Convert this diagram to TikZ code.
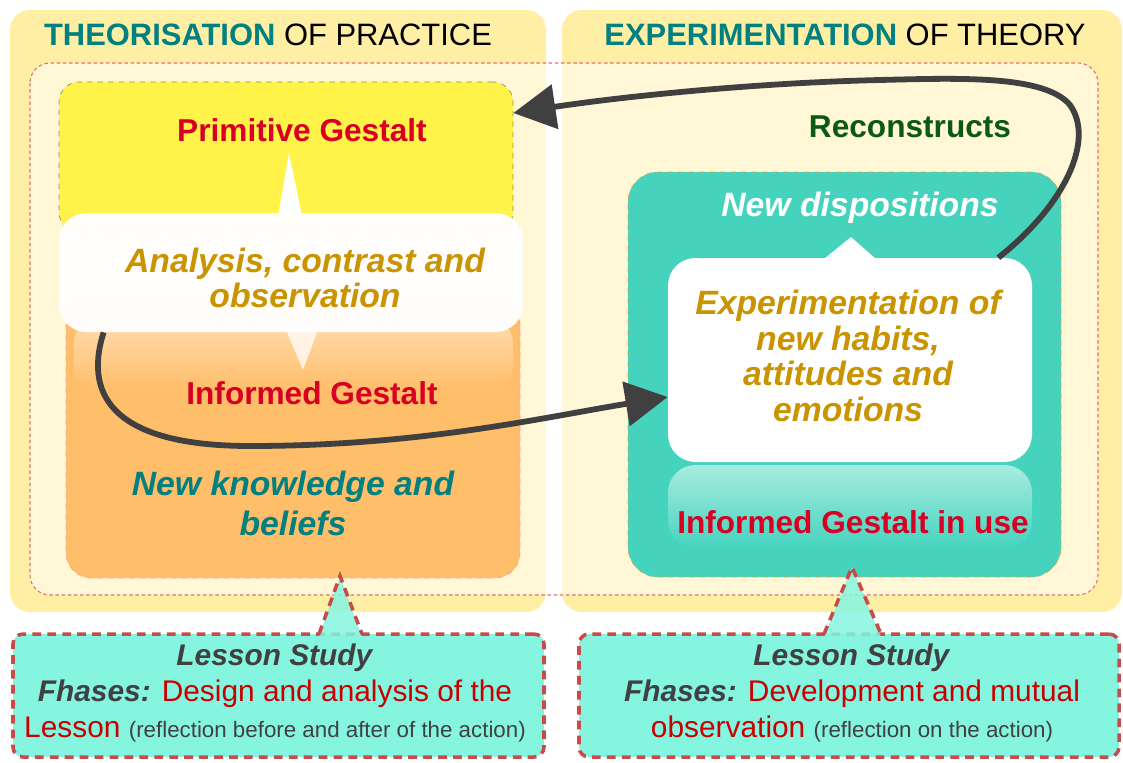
\documentclass[tikz,border=0pt]{standalone}
\usepackage{fontspec}
\setmainfont{Liberation Sans}
\usepackage{xcolor}
\usetikzlibrary{arrows.meta}
\usetikzlibrary{calc}
\usetikzlibrary{fit}

\definecolor{panelyellow}{HTML}{FFEFA5}
\definecolor{primyellow}{HTML}{FFF34A}
\definecolor{primborder}{HTML}{8E8E70}
\definecolor{innerdash}{HTML}{E07272}
\definecolor{orangebox}{HTML}{FFBE69}
\definecolor{orangegloss}{HTML}{FFDDB0}
\definecolor{orangeborder}{HTML}{F5A0B4}
\definecolor{tealbox}{HTML}{45D3BE}
\definecolor{tealgloss}{HTML}{A8ECE0}
\definecolor{tealborder}{HTML}{F0A23A}
\definecolor{lsfill}{HTML}{86F5E0}
\definecolor{lsborder}{HTML}{C84B4B}
\definecolor{titleteal}{HTML}{008080}
\definecolor{gesred}{HTML}{D70024}
\definecolor{callgold}{HTML}{C99400}
\definecolor{recgreen}{HTML}{0B5A14}
\definecolor{arrowgray}{HTML}{404040}
\definecolor{lsred}{HTML}{C80000}

\tikzset{
  panel/.style={fill=panelyellow, rounded corners=0.4cm},
  title/.style={anchor=base, font=\fontsize{17.6}{21}\selectfont},
  gestalt/.style={text=gesred, font=\fontsize{18}{22}\selectfont\bfseries},
  calltext/.style={text=callgold, align=center, font=\fontsize{19.2}{20.4}\selectfont\bfseries\itshape},
  knowtext/.style={text=titleteal, align=center, font=\fontsize{19.2}{22.7}\selectfont\bfseries\itshape},
  bigarrow/.style={draw=arrowgray, line width=3.3pt, -{Triangle[length=24pt,width=25pt]}},
  lsboxstyle/.style={fill=lsfill, draw=lsborder, line width=2pt, dash pattern=on 5pt off 3.5pt, rounded corners=0.2cm, inner sep=0pt},
  lstext/.style={align=center, text=arrowgray, font=\fontsize{17}{20.7}\selectfont},
}

\begin{document}
\begin{tikzpicture}[x=0.02cm, y=-0.02cm]
        \newcommand{\figboxrad}{0.4cm}
        \newcommand{\figcallrad}{0.55cm}
        \newcommand{\figsmall}{\fontsize{12.7}{15}\selectfont}
        \path[use as bounding box, fill=white] (0,0) rectangle (1123,762);
        % the two phases
        \fill[panel] (10,10) rectangle (546,612);
        \fill[panel] (562,10) rectangle (1122,612);
        \node[title] (theo) at (268,45) {\textcolor{titleteal}{\bfseries THEORISATION} OF PRACTICE};
        \node[title] (expt) at (845,45) {\textcolor{titleteal}{\bfseries EXPERIMENTATION} OF THEORY};
        \path[draw=innerdash, line width=0.6pt, dash pattern=on 2pt off 1.5pt, fill=white, fill opacity=0.55, rounded corners=\figboxrad] (30,63) rectangle (1098,595);
        % left side
        \node[fit={(59,82) (513,232)}, inner sep=0pt, fill=primyellow, draw=primborder, dashed, rounded corners=\figboxrad] (prim) {};
        \node[gestalt] (primlbl) at (302,130) {Primitive Gestalt};
        \node[fit={(66,300) (520,578)}, inner sep=0pt, fill=orangebox, draw=orangeborder, dashed, rounded corners=0.5cm] (know) {};
        \shade[top color=orangegloss, bottom color=orangebox, rounded corners=0.5cm] (74,318) rectangle (513,390);
        \node[fit={(59,213) (523,332)}, inner sep=0pt, fill=white, fill opacity=0.97, rounded corners=\figcallrad] (analysis) {};
        \fill[white] (278,216) -- (289,153) -- (302,216) -- cycle;
        \fill[white, opacity=0.75] (286,330) -- (303,370) -- (318,330) -- cycle;
        \node[calltext] (analysislbl) at (305,278) {Analysis, contrast and\\observation};
        \node[gestalt] (infolbl) at (312,393) {Informed Gestalt};
        \node[knowtext] (knowlbl) at (293,503) {New knowledge and\\beliefs};
        % right side
        \node[fit={(628,172) (1061,577)}, inner sep=0pt, fill=tealbox, draw=tealborder, dashed, rounded corners=0.6cm] (disp) {};
        \shade[top color=tealgloss, bottom color=tealbox, rounded corners=\figcallrad] (668,465) rectangle (1032,548);
        \node[calltext, text=white] (displbl) at (860,208) {New dispositions};
        \node[fit={(668,258) (1032,462)}, inner sep=0pt, fill=white, rounded corners=\figcallrad] (expe) {};
        \fill[white] (824,259) -- (851,237) -- (876,259) -- cycle;
        \node[calltext] (expelbl) at (848,356) {Experimentation of\\new habits,\\attitudes and\hspace*{11pt}\\emotions};
        \node[gestalt] (uselbl) at (853,522) {Informed Gestalt in use};
        \node[gestalt, text=recgreen] (reclbl) at (910,127) {Reconstructs};
        % arrows
        \draw[bigarrow] ([xshift=0.9cm]analysis.south west) .. controls (82,400) and (120,446) .. (250,446) .. controls (420,446) and (540,418) .. ([yshift=-0.74cm]expe.west);
        \draw[bigarrow] ([xshift=-0.68cm]expe.north east) .. controls (1065,205) and (1095,140) .. (1070,105) .. controls (1045,75) and (960,78) .. (880,80) .. controls (750,83) and (620,97) .. ([yshift=0.88cm]prim.east);
        % lesson study
        \node[fit={(13,634) (544,757)}, lsboxstyle] (lsdesign) {};
        \fill[lsfill, fill opacity=0.85] (319,637) -- (340,576) -- (362,637) -- cycle;
        \draw[lsborder, line width=2pt, dash pattern=on 5pt off 3.5pt] (319,634) -- (340,576) -- (362,634);
        \node[lstext] (lsdesignlbl) at (275,693) {\textbf{\textit{Lesson Study}}\\\textbf{\textit{Fhases:}} \textcolor{lsred}{Design and analysis of the}\\\textcolor{lsred}{Lesson} {\figsmall(reflection before and after of the action)}};
        \node[fit={(579,634) (1119,757)}, lsboxstyle] (lsdevel) {};
        \fill[lsfill, fill opacity=0.85] (824,637) -- (852,567) -- (881,637) -- cycle;
        \draw[lsborder, line width=2pt, dash pattern=on 5pt off 3.5pt] (824,634) -- (852,567) -- (881,634);
        \node[lstext] (lsdevellbl) at (852,693) {\textbf{\textit{Lesson Study}}\\\textbf{\textit{Fhases:}} \textcolor{lsred}{Development and mutual}\\\textcolor{lsred}{observation} {\figsmall(reflection on the action)}};
    \end{tikzpicture}
\end{document}
